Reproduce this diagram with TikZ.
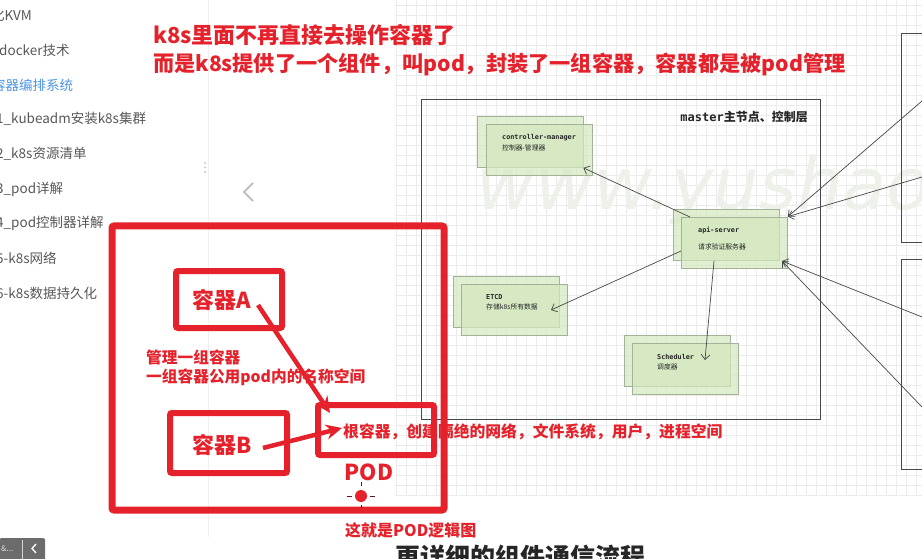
\documentclass[tikz,border=0pt]{standalone}
\usepackage{fontspec}
\setmainfont{Noto Sans CJK SC}
\newfontfamily\monof{DejaVu Sans Mono}
\newfontfamily\wmf{DejaVu Sans}
\usetikzlibrary{arrows.meta}
\definecolor{pred}{HTML}{E5222B}
\definecolor{side}{HTML}{585858}
\definecolor{sideblue}{HTML}{4A95E5}
\definecolor{gridc}{HTML}{ECECEC}
\definecolor{gfill}{HTML}{D3E8BE}
\definecolor{gline}{HTML}{A3B397}
\definecolor{lcol}{HTML}{484848}
\definecolor{wm}{HTML}{EEF1EA}
\definecolor{tabc}{HTML}{6C6C6C}
\tikzset{
  sidetext/.style={anchor=west, text=side, font=\fontsize{13.5}{14}\selectfont, inner sep=0},
  gbox/.style={draw=gline, line width=0.8, fill=gfill, fill opacity=0.7, minimum width=106, minimum height=51, inner sep=0},
  gtext/.style={anchor=west, text=black!85, font=\fontsize{6.8}{7}\selectfont, inner sep=0},
  conn/.style={draw=lcol, line width=0.7, -{Straight Barb[length=5pt,width=9pt]}},
  rbox/.style={draw=pred, line width=6, rounded corners=2, inner sep=0},
  rtext/.style={text=pred, font=\bfseries\fontsize{16}{16}\selectfont, inner sep=0},
  rarrow/.style={draw=pred, line width=4.5, -{Stealth[length=16pt,width=15pt]}},
  graybox/.style={draw=lcol, line width=0.8, inner sep=0}
}
\begin{document}
\begin{tikzpicture}[x=1pt,y=-1pt]
\useasboundingbox (0,0) rectangle (922,559);
\fill[white] (0,0) rectangle (922,559);
% grid
\foreach \gx in {396,406,...,916} \draw[gridc,line width=0.5] (\gx,0) -- (\gx,495);
\foreach \gy in {5,15,...,495} \draw[gridc,line width=0.5] (395,\gy) -- (922,\gy);
% watermark
\node[anchor=base west, text=wm, font=\wmf\itshape\fontsize{72}{72}\selectfont, inner sep=0] (wmark) at (476,210) {www.yushaoqi};
% sidebar
\draw[black!6, line width=1] (208,0) -- (208,537);
\foreach \dy in {163,167.5,172} \fill[black!25] (205,\dy) circle (1);
\node[sidetext] (s1) at (-9,15) {化KVM};
\node[sidetext] (s2) at (-1,50) {docker技术};
\node[sidetext, text=sideblue] (s3) at (-8,85) {容器编排系统};
\node[sidetext] (s4) at (-4,119) {1\_kubeadm安装k8s集群};
\node[sidetext] (s5) at (-4,154) {2\_k8s资源清单};
\node[sidetext] (s6) at (-4,189) {3\_pod详解};
\node[sidetext] (s7) at (-4,223) {4\_pod控制器详解};
\node[sidetext] (s8) at (-4,258) {5-k8s网络};
\node[sidetext] (s9) at (-4,293) {6-k8s数据持久化};
\draw[black!25, line width=2] (253,183) -- (244,192) -- (253,201);
% bottom tab
\node[fill=tabc, rounded corners=2, minimum width=46, minimum height=23, anchor=north west, inner sep=0] (tab) at (-1,538) {};
\draw[white!70!tabc, line width=0.6] (22,540) -- (22,559);
\node[anchor=west, text=white!75!tabc, font=\fontsize{8}{8}\selectfont, inner sep=0] (tabtxt) at (1,549) {\&...};
\draw[white, line width=1.3] (36,544) -- (32,548.5) -- (36,553);
% titles
\node[anchor=west, text=pred, font=\bfseries\fontsize{22}{22}\selectfont, inner sep=0] (t1) at (153,35) {k8s里面不再直接去操作容器了};
\node[anchor=west, text=pred, font=\bfseries\fontsize{21.2}{22}\selectfont, inner sep=0] (t2) at (153,64) {而是k8s提供了一个组件，叫pod，封装了一组容器，容器都是被pod管理};
% master box
\node[graybox, minimum width=399, minimum height=320] (master) at (620.5,259) {};
\node[anchor=east, text=black!85, font=\bfseries\fontsize{12}{12}\selectfont, inner sep=0] (mtitle) at (808,117) {{\monof\bfseries master}主节点、控制层};
% right boxes
\node[graybox, minimum width=60, minimum height=209, anchor=north west] (node1) at (901,33) {};
\node[graybox, minimum width=60, minimum height=210, anchor=north west] (node2) at (901,259) {};
% green components
\node[gbox] (cmB) at (530,142) {};
\node[gbox] (cm) at (539,149.5) {};
\node[gbox] (apiB) at (726,234.5) {};
\node[gbox] (api) at (734.5,242.5) {};
\node[gbox] (etcdB) at (506,301.5) {};
\node[gbox] (etcd) at (514,309.5) {};
\node[gbox] (schB) at (677.5,360.5) {};
\node[gbox] (sch) at (685.5,368.5) {};
\node[gtext] (cm1) at (502,138) {\monof\bfseries controller-manager};
\node[gtext] (cm2) at (502,147.5) {控制器-管理器};
\node[gtext] (api1) at (698,230) {\monof\bfseries api-server};
\node[gtext] (api2) at (698,247) {请求验证服务器};
\node[gtext] (etcd1) at (486,297) {\monof\bfseries ETCD};
\node[gtext] (etcd2) at (486,307) {存储k8s所有数据};
\node[gtext] (sch1) at (657,357) {\monof\bfseries Scheduler};
\node[gtext] (sch2) at (657,366.5) {调度器};
% connector points
\coordinate (apiTop) at (690,217);
\coordinate (apiLeft) at (681,251);
\coordinate (apiBot) at (714,261);
\coordinate (etcdTip) at (551,310);
\coordinate (schTip) at (705,360);
\coordinate (apiSE) at (782,261);
\coordinate (r1) at (922,101);
\coordinate (r2) at (922,177);
\coordinate (r3) at (922,317);
\coordinate (r4) at (922,407);
\draw[conn] (apiTop) -- (cmB.south east);
\draw[conn] (apiLeft) -- (etcdTip);
\draw[conn] (apiBot) -- (schTip);
\draw[conn] (r1) -- (api.north east);
\draw[conn] (r2) -- (api.north east);
\draw[conn] (r3) -- (apiSE);
\draw[conn] (r4) -- (apiSE);
% POD logic diagram
\node[draw=pred, line width=7, rounded corners=2, minimum width=332, minimum height=284, inner sep=0] (pod) at (278,368) {};
\node[rbox, minimum width=106, minimum height=57] (boxA) at (229,299.5) {};
\node[rbox, minimum width=117, minimum height=60] (boxB) at (228.5,443) {};
\node[rbox, minimum width=116, minimum height=50] (root) at (376,430) {};
\node[text=pred, font=\bfseries\fontsize{22}{22}\selectfont, inner sep=0] (labA) at (222,300) {容器A};
\node[text=pred, font=\bfseries\fontsize{22}{22}\selectfont, inner sep=0] (labB) at (222,445) {容器B};
\node[rtext, anchor=west, font=\bfseries\fontsize{15.8}{16}\selectfont] (roottxt) at (343,432) {根容器，创建隔绝的网络，文件系统，用户，进程空间};
\node[rtext, anchor=west, font=\bfseries\fontsize{15.7}{16}\selectfont] (m1) at (146,357) {管理一组容器};
\node[rtext, anchor=west, font=\bfseries\fontsize{15.7}{16}\selectfont] (m2) at (146,377) {一组容器公用pod内的名称空间};
\coordinate (aStart) at (258,305);
\coordinate (aTip) at (330,413);
\coordinate (bStart) at (263,448);
\coordinate (bTip) at (342,428);
\draw[rarrow] (aStart) -- (aTip);
\draw[rarrow] (bStart) -- (bTip);
\node[text=pred, font=\bfseries\fontsize{22}{22}\selectfont, inner sep=0] (podlab) at (369,472) {POD};
\node[circle, fill=pred, minimum size=12, inner sep=0] (dot) at (361,496) {};
\draw[black!55!pred, line width=0.8] (347,496) -- (352,496) (370,496) -- (375,496) (361,482) -- (361,486) (361,505) -- (361,508);
\node[rtext, anchor=west] (podcap) at (345,530) {这就是POD逻辑图};
\node[anchor=west, text=black!85, font=\bfseries\fontsize{25}{25}\selectfont, inner sep=0] (bottitle) at (395,557) {更详细的组件通信流程};
\end{tikzpicture}
\end{document}
